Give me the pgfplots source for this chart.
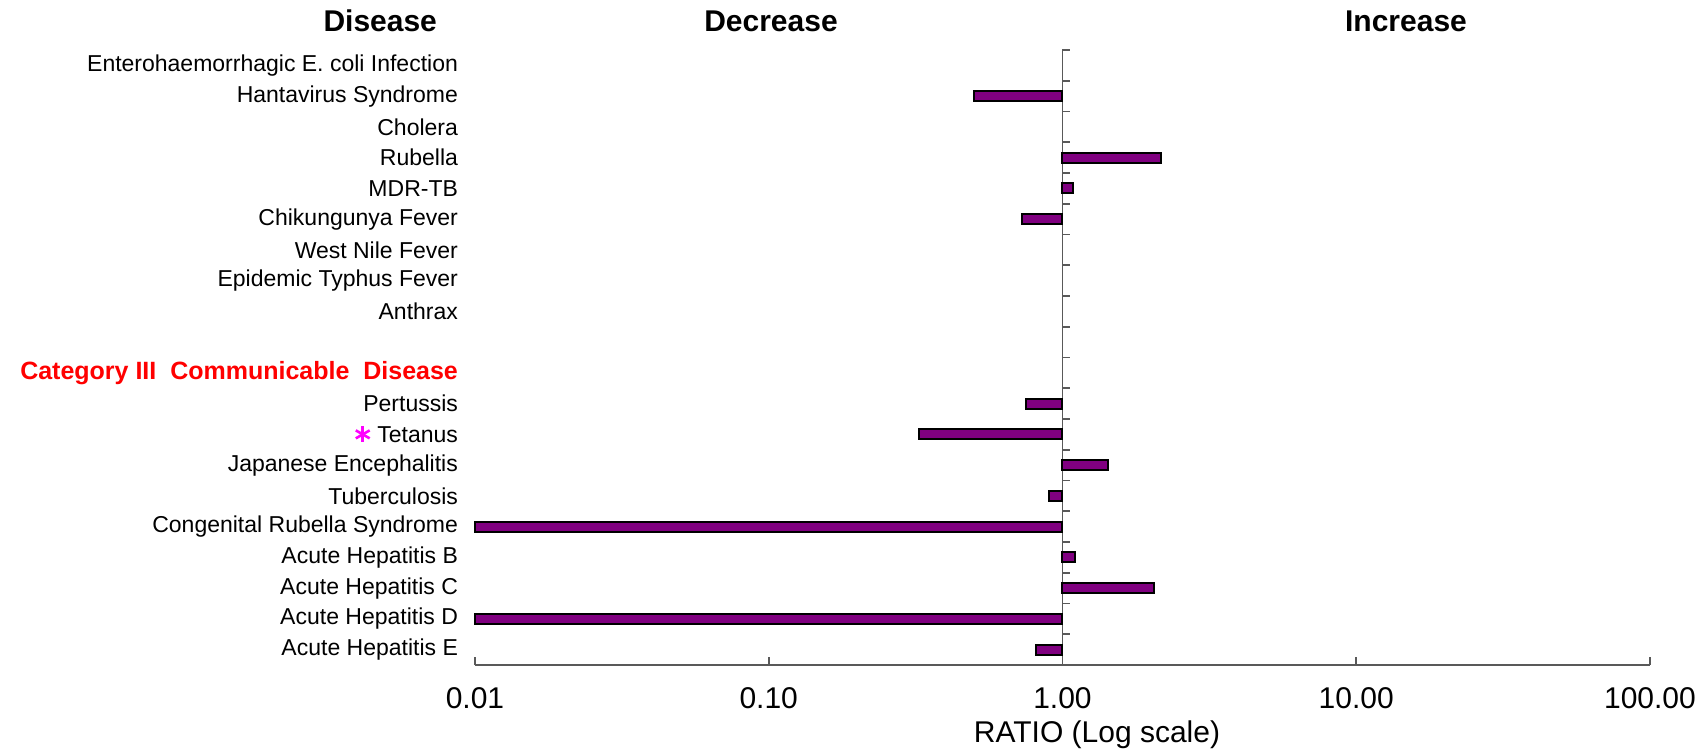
\documentclass[border=0pt]{standalone}
\usepackage{pgfplots}
\pgfplotsset{compat=1.18}
\usepackage{fontspec}
\setmainfont{Liberation Sans}

\definecolor{barpurple}{HTML}{800080}
\definecolor{axisgray}{HTML}{595959}
\definecolor{catred}{HTML}{FF0000}
\definecolor{starmag}{HTML}{FF00FF}

% six-spoke marker in front of Tetanus
\newcommand\tetstar{\tikz[baseline={(0,-3.9pt)}]{\foreach \a in {90,30,150}{\draw[starmag,line width=1.3pt] (\a:4pt) -- (\a+180:4pt);}}}

\begin{document}
\begin{tikzpicture}
\useasboundingbox (-237.5pt,-45pt) rectangle (616.5pt,332.5pt);
\begin{axis}[
  at={(0,0)}, anchor=south west, scale only axis,
  width=587.5pt, height=307.5pt,
  xmode=log, xmin=0.01, xmax=100, log origin x=0,
  ymin=-0.5, ymax=19.5,
  axis x line*=bottom, axis y line*=left,
  x axis line style={axisgray, line width=0.9pt},
  y axis line style={draw=none},
  xtick={0.01,0.1,1,10,100},
  xticklabels={0.01,0.10,1.00,10.00,100.00},
  xminorticks=false,
  tick align=inside, major tick length=4pt,
  xtick style={axisgray, line width=0.9pt},
  ytick style={draw=none},
  xticklabel style={font=\fontsize{15}{18}\selectfont, anchor=base, yshift=-21.5pt},
  ytick={0,...,19},
  yticklabels={
    Acute Hepatitis E,
    Acute Hepatitis D,
    Acute Hepatitis C,
    Acute Hepatitis B,
    Congenital Rubella Syndrome,
    Tuberculosis,
    Japanese Encephalitis,
    \tetstar\ Tetanus,
    Pertussis,
    {\color{catred}\bfseries\fontsize{12.5}{15}\selectfont Category III\ \ Communicable\ \ Disease},
    {},
    Anthrax,
    Epidemic Typhus Fever,
    West Nile Fever,
    Chikungunya Fever,
    MDR-TB,
    Rubella,
    Cholera,
    Hantavirus Syndrome,
    Enterohaemorrhagic E. coli Infection},
  yticklabel style={font=\fontsize{11.5}{13}\selectfont, anchor=east, xshift=-5pt},
  clip=false,
]
% ratio axis line at 1 with category separators
\draw[axisgray, line width=0.9pt] (axis cs:1,-0.5) -- (axis cs:1,19.5);
\pgfplotsinvokeforeach{0.5,1.5,2.5,3.5,4.5,5.5,6.5,7.5,8.5,9.5,10.5,11.5,12.5,13.5,14.5,15.5,16.5,17.5,18.5,19.5}{
  \draw[axisgray, line width=0.9pt] (axis cs:1,#1) -- ([xshift=4pt]axis cs:1,#1);
}
\addplot[xbar, bar width=5pt, fill=barpurple, draw=black, line width=1pt]
  coordinates {
    (0.50,18) (2.17,16) (1.09,15) (0.73,14)
    (0.75,8) (0.326,7) (1.43,6) (0.90,5) (0.01,4)
    (1.10,3) (2.05,2) (0.01,1) (0.81,0)
  };
\end{axis}
\node[anchor=base east, font=\bfseries\fontsize{15}{18}\selectfont] at (-15.5pt,316.5pt) {Disease};
\node[anchor=base, font=\bfseries\fontsize{15}{18}\selectfont] at (148pt,316.5pt) {Decrease};
\node[anchor=base, font=\bfseries\fontsize{15}{18}\selectfont] at (465.5pt,316.5pt) {Increase};
\node[anchor=base, font=\fontsize{15}{18}\selectfont] at (311pt,-38.5pt) {RATIO (Log scale)};
\end{tikzpicture}
\end{document}
